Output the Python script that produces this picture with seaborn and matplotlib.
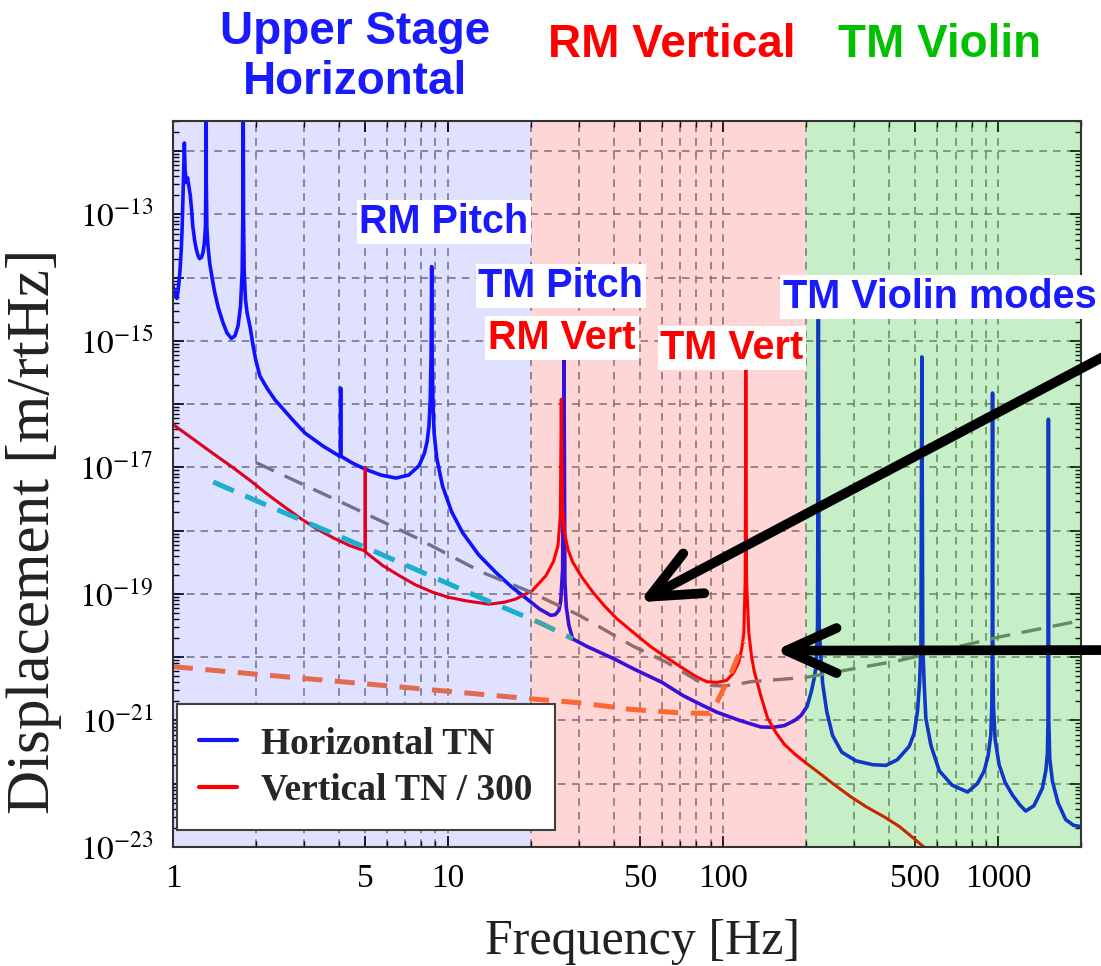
import matplotlib
matplotlib.use('Agg')
import matplotlib.pyplot as plt
import seaborn as sns
import numpy as np
import pandas as pd
from matplotlib.ticker import FixedLocator, FuncFormatter, LogLocator, NullFormatter

# Horizontal thermal noise (blue)
horiz_freq = [1.0, 1.015, 1.034, 1.05, 1.06, 1.072, 1.08, 1.087, 1.094, 1.10, 1.107, 1.118, 1.13,
              1.143, 1.156, 1.17, 1.18, 1.2, 1.216, 1.235, 1.25, 1.27, 1.286, 1.3, 1.312, 1.318,
              1.32, 1.322, 1.328, 1.34, 1.36, 1.39, 1.418, 1.46, 1.52, 1.57, 1.63, 1.68, 1.725,
              1.76, 1.785, 1.795, 1.80, 1.805, 1.815, 1.835, 1.86, 1.91, 1.96, 2.0, 2.07, 2.2,
              2.35, 2.52, 2.75, 3.02, 3.5, 4.04, 4.06, 4.07, 4.08, 4.5, 5.03, 5.7, 6.47, 7.2,
              7.85, 8.2, 8.4, 8.53, 8.62, 8.68, 8.72, 8.76, 8.82, 8.9, 9.1, 9.55, 10.3, 11.3,
              12.9, 14.9, 17.0, 19.4, 21.5, 23.6, 24.5, 25.3, 25.7, 26.1, 26.4, 26.6, 26.9, 27.5,
              28.4, 31.8, 40, 47.1, 60, 71.8, 85, 95, 115, 137, 152, 167, 182, 192, 202, 209,
              214, 218, 220.5, 222, 223.5, 226, 230, 238, 250, 270, 304, 350, 391, 430, 475, 495,
              509, 518, 524, 528, 532, 538, 546, 570, 611, 680, 774, 840, 890, 920, 940, 948,
              952, 954, 956, 962, 975, 1008, 1060, 1128, 1200, 1260, 1350, 1448, 1490, 1510,
              1518, 1523, 1528, 1540, 1575, 1650, 1761, 1880, 2000]
horiz_disp = [7.4e-15, 5.6e-15, 4.7e-15, 7.9e-15, 1.26e-14, 2.8e-14, 6.3e-14, 1.7e-13, 5.0e-13,
              1.35e-12, 5.0e-13, 3.2e-13, 3.8e-13, 2.75e-13, 2.0e-13, 1.12e-13, 6.6e-14, 3.8e-14,
              2.8e-14, 2.2e-14, 2.0e-14, 2.1e-14, 2.5e-14, 3.5e-14, 6.3e-14, 3.2e-13, 1e-11,
              3.2e-13, 6.3e-14, 3.2e-14, 1.7e-14, 9.5e-15, 5.9e-15, 3.4e-15, 1.95e-15, 1.35e-15,
              1.1e-15, 1.2e-15, 1.74e-15, 3.5e-15, 1.26e-14, 1.0e-13, 1e-11, 1.0e-13, 1.26e-14,
              4.5e-15, 2.8e-15, 1.6e-15, 7.9e-16, 5.0e-16, 2.8e-16, 1.78e-16, 1.17e-16, 8.3e-17,
              5.4e-17, 3.5e-17, 2.2e-17, 1.5e-17, 1.5e-17, 1.8e-16, 1.5e-17, 1.17e-17, 9.3e-18,
              7.6e-18, 6.8e-18, 7.6e-18, 1.07e-17, 1.66e-17, 2.6e-17, 4.6e-17, 1.26e-16, 6.3e-16,
              1.5e-14, 5.0e-16, 1.0e-16, 3.5e-17, 1.4e-17, 5.1e-18, 2.0e-18, 9.3e-19, 4.2e-19,
              2.2e-19, 1.3e-19, 8.3e-20, 5.8e-20, 4.6e-20, 4.7e-20, 5.5e-20, 7.9e-20, 2.5e-19,
              5.5e-16, 1.6e-19, 6.3e-20, 3.2e-20, 1.95e-20, 1.5e-20, 9.5e-21, 6.6e-21, 4.0e-21,
              2.45e-21, 1.7e-21, 1.35e-21, 1.0e-21, 7.9e-22, 7.8e-22, 8.3e-22, 1.0e-21, 1.2e-21,
              1.66e-21, 2.8e-21, 4.5e-21, 7.4e-21, 3.2e-20, 2.2e-15, 3.2e-20, 1.26e-20, 3.9e-21,
              1.4e-21, 5.8e-22, 3.16e-22, 2.3e-22, 2.0e-22, 1.95e-22, 2.4e-22, 3.9e-22, 6.3e-22,
              1.4e-21, 4.0e-21, 1.58e-20, 5.6e-16, 1.58e-20, 4.0e-21, 1.07e-21, 4.0e-22, 1.6e-22,
              9.5e-23, 7.4e-23, 1.0e-22, 1.6e-22, 2.8e-22, 5.8e-22, 1.6e-21, 1.0e-20, 1.5e-16,
              1.0e-20, 1.6e-21, 5.0e-22, 2.0e-22, 1.05e-22, 6.6e-23, 4.6e-23, 3.7e-23, 4.5e-23,
              8.5e-23, 1.6e-22, 3.0e-22, 1.0e-21, 5.8e-17, 1.0e-21, 2.5e-22, 1.1e-22, 5.0e-23,
              2.7e-23, 2.2e-23, 2.1e-23]

# Vertical thermal noise / 300 (red)
vert_freq = [1.0, 1.2, 1.4, 1.65, 1.91, 2.2, 2.52, 2.9, 3.33, 3.85, 4.4, 4.99, 5.0, 5.01, 5.8,
             6.65, 7.6, 8.77, 10.0, 11.6, 14.1, 16.0, 17.6, 20.2, 22.7, 24.2, 25.1, 25.6, 25.8,
             26.05, 26.5, 27.3, 28.4, 30.5, 33.6, 37, 41, 47, 54.2, 62, 71.8, 80, 87.4, 95, 103,
             109, 114, 117, 119, 120.3, 121, 121.7, 124, 127, 130, 137, 145, 155, 167, 183, 201,
             225, 251, 290, 332, 385, 438, 490, 548, 600]
vert_disp = [4.8e-17, 2.7e-17, 1.66e-17, 1.0e-17, 6.2e-18, 3.8e-18, 2.45e-18, 1.58e-18, 1.07e-18,
             7.6e-19, 5.8e-19, 4.8e-19, 1.0e-17, 4.6e-19, 2.8e-19, 1.95e-19, 1.4e-19, 1.07e-19,
             8.9e-20, 7.8e-20, 6.9e-20, 7.4e-20, 8.3e-20, 1.12e-19, 1.95e-19, 3.3e-19, 5.8e-19,
             1.74e-18, 1.2e-16, 2.5e-18, 9.3e-19, 5.0e-19, 3.2e-19, 1.9e-19, 1.07e-19, 6.5e-20,
             4.1e-20, 2.5e-20, 1.5e-20, 1.0e-20, 6.6e-21, 4.9e-21, 4.1e-21, 4.0e-21, 4.3e-21,
             5.6e-21, 8.3e-21, 1.4e-20, 2.45e-20, 1.6e-19, 3.8e-16, 1.6e-19, 2.45e-20, 1.0e-20,
             5.8e-21, 2.5e-21, 1.1e-21, 6.6e-22, 4.2e-22, 2.9e-22, 2.1e-22, 1.45e-22, 1.0e-22,
             6.3e-23, 4.3e-23, 3.0e-23, 2.1e-23, 1.4e-23, 9.3e-24, 6.3e-24]

# gray dashed curve
gray_freq = [2.0, 4.39, 7.64, 13.3, 19.5, 30, 47, 62.4, 82.6, 90, 100, 115, 126, 200, 438, 1014, 2000]
gray_disp = [1.2e-17, 2.45e-18, 7.8e-19, 2.2e-19, 1.12e-19, 4.6e-20, 1.5e-20, 8.3e-21, 4.0e-21,
             3.6e-21, 3.5e-21, 3.8e-21, 4.1e-21, 4.8e-21, 8.9e-21, 2.1e-20, 3.8e-20]

# cyan dashed
cyan_freq = [1.4, 2.02, 5.03, 13.3, 21.9, 28.4]
cyan_disp = [5.9e-18, 2.95e-18, 5.4e-19, 8.5e-20, 3.4e-20, 1.95e-20]

# orange dashed
orange_freq = [1.0, 2.0, 5.0, 13.1, 20, 30.3, 46, 70, 90, 95, 106, 119]
orange_disp = [7.1e-21, 5.4e-21, 3.8e-21, 2.6e-21, 2.2e-21, 1.9e-21, 1.5e-21, 1.32e-21, 1.29e-21,
               1.95e-21, 5.1e-21, 1.74e-20]

regions = [(1, 20), (20, 200), (200, 2000)]
region_colors = [(0, 0, 1), (1, 0, 0), (0, 0.73, 0)]
region_alpha = [0.12, 0.16, 0.22]

sns.set_style('ticks')
plt.rcParams['font.family'] = ['Liberation Serif', 'DejaVu Serif']
plt.rcParams['mathtext.fontset'] = 'stix'

fig = plt.figure(figsize=(11.01, 9.66), dpi=100)
ax = fig.add_axes([0.1571, 0.1232, 0.8247, 0.7515])
ax.set_xscale('log')
ax.set_yscale('log')

blue = '#1414ff'
red = '#ff0000'

sns.lineplot(x=horiz_freq, y=horiz_disp, ax=ax, color=blue, lw=2.6, estimator=None, sort=False,
             label='Horizontal TN', zorder=2)
sns.lineplot(x=vert_freq, y=vert_disp, ax=ax, color=red, lw=2.2, estimator=None, sort=False,
             label='Vertical TN / 300', zorder=2)
sns.lineplot(x=gray_freq, y=gray_disp, ax=ax, color='#808080', lw=2.4, estimator=None, sort=False,
             linestyle=(0, (6, 3.5)), legend=False, zorder=2)
sns.lineplot(x=cyan_freq, y=cyan_disp, ax=ax, color='#1ec8c8', lw=3.6, estimator=None, sort=False,
             linestyle=(0, (4.5, 2.5)), legend=False, zorder=2)
sns.lineplot(x=orange_freq, y=orange_disp, ax=ax, color='#ff7a3c', lw=3.6, estimator=None, sort=False,
             linestyle=(0, (4, 2.5)), legend=False, zorder=2)

# translucent bands drawn over the curves
for (lo, hi), c, a in zip(regions, region_colors, region_alpha):
    ax.axvspan(lo, hi, color=c, alpha=a, lw=0, zorder=2.3)

ax.set_xlim(1, 2000)
ax.set_ylim(1e-23, 3e-12)

ax.xaxis.set_major_locator(FixedLocator([1, 5, 10, 50, 100, 500, 1000]))
ax.xaxis.set_major_formatter(FuncFormatter(lambda v, _: '%g' % v))
ax.xaxis.set_minor_locator(LogLocator(base=10, subs=(2, 3, 4, 5, 6, 7, 8, 9), numticks=20))
ax.xaxis.set_minor_formatter(NullFormatter())

ax.yaxis.set_major_locator(FixedLocator([10.0 ** k for k in range(-23, -11)]))
ax.yaxis.set_major_formatter(FuncFormatter(
    lambda v, _: (r'$10^{%d}$' % round(np.log10(v))) if round(np.log10(v)) % 2 else ''))
ax.yaxis.set_minor_locator(LogLocator(base=10, subs=(2, 3, 4, 5, 6, 7, 8, 9), numticks=30))
ax.yaxis.set_minor_formatter(NullFormatter())

ax.tick_params(axis='both', which='both', direction='in', top=True, right=True,
               color='black', labelcolor='black')
ax.tick_params(axis='both', which='major', length=8, width=1.2, labelsize=24)
ax.tick_params(axis='both', which='minor', length=4, width=1.0)
ax.tick_params(axis='x', which='major', pad=12)
ax.tick_params(axis='y', which='major', pad=14)

grid_kw = dict(color='#7a7a7a', lw=1.1, linestyle=(0, (5, 4)))
ax.grid(axis='x', which='both', **grid_kw)
ax.grid(axis='y', which='major', **grid_kw)

for s in ax.spines.values():
    s.set_color('#333333')
    s.set_linewidth(1.5)
    s.set_zorder(3)

ax.set_xlabel('Frequency [Hz]', fontsize=36, color='#222222')
ax.set_ylabel('Displacement [m/rtHz]', fontsize=44, color='#222222')
ax.xaxis.set_label_coords(0.5176, -0.098)
ax.yaxis.set_label_coords(-0.122, 0.435)

leg = ax.legend(loc='lower left', bbox_to_anchor=(0.004, 0.023), borderaxespad=0,
                prop=dict(family='Liberation Serif', weight='bold', size=27),
                frameon=True, fancybox=False, framealpha=1, edgecolor='#404040',
                handlelength=1.0, handletextpad=0.65, borderpad=0.6, labelspacing=0.3)
leg.get_frame().set_linewidth(1.5)
leg.set_zorder(6)
for ln in leg.get_lines():
    ln.set_linewidth(3)

# arrows coming in from the right edge
arrow_kw = dict(arrowstyle='->,head_length=1.0,head_width=0.45', lw=7, color='black',
                mutation_scale=36, shrinkA=0, shrinkB=0, capstyle='round', joinstyle='round')
ax.annotate('', xy=(49.5, 7.4e-20), xycoords='data', xytext=(1135, 626),
            textcoords='figure pixels', arrowprops=arrow_kw, annotation_clip=False, zorder=7)
ax.annotate('', xy=(154, 1.27e-20), xycoords='data', xytext=(1135, 316),
            textcoords='figure pixels', arrowprops=arrow_kw, annotation_clip=False, zorder=7)

W, H = 1101, 966
sans = ['Liberation Sans', 'DejaVu Sans']
tcol = '#1a1aff'


def label(x, y, s, color, size, box=True, **kw):
    bb = dict(facecolor='white', edgecolor='none', pad=2) if box else None
    fig.text(x / W, 1 - y / H, s, ha='center', va='center', color=color, fontsize=size,
             fontweight='bold', family=sans, bbox=bb, **kw)


label(355, 57, 'Upper Stage\nHorizontal', tcol, 33, box=False, linespacing=1.2)
label(672, 45, 'RM Vertical', red, 33, box=False)
label(940, 45, 'TM Violin', '#00c000', 33, box=False)
label(444, 222, 'RM Pitch', tcol, 28.5)
label(561, 286, 'TM Pitch', tcol, 28.5)
label(562, 338, 'RM Vert', red, 28.5)
label(732, 348, 'TM Vert', red, 28.5)
label(940, 297, 'TM Violin modes', tcol, 28.5)

fig.savefig('out.png', dpi=100)
